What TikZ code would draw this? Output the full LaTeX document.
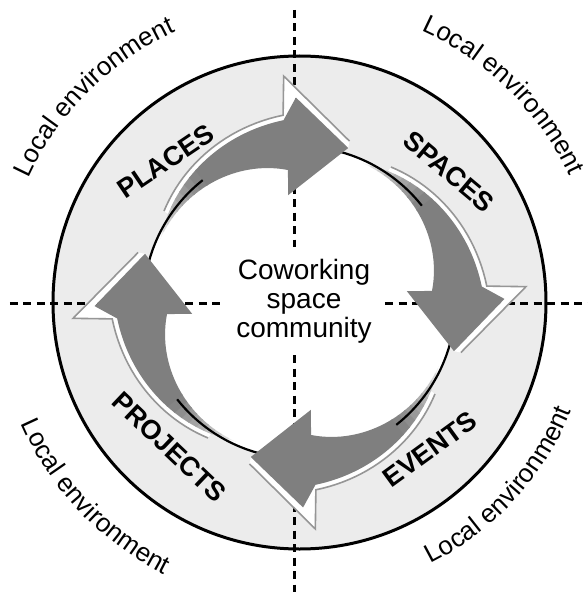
\documentclass[tikz,border=0pt]{standalone}
\usepackage{fontspec}
\setmainfont{Liberation Sans}
\usetikzlibrary{decorations.text}

\definecolor{ringgray}{RGB}{236,236,236}
\definecolor{arrowgray}{RGB}{127,127,127}
\definecolor{rimgray}{RGB}{150,150,150}

\tikzset{
  crossline/.style={line width=3pt,dash pattern=on 8pt off 5.5pt},
  envtext/.style={decorate,decoration={text along path,text align=center,
      text={|\fontsize{26}{30}\selectfont|Local environment}}},
  stagelabel/.style={inner sep=0pt,font=\fontsize{27}{30}\selectfont\bfseries},
}

\begin{document}
\begin{tikzpicture}[x=1pt,y=1pt]
\useasboundingbox (-299.5,-289.5) rectangle (288.5,302.5);

\fill[ringgray,even odd rule] (0,0) circle[radius=246.5] (0,0) circle[radius=156];
\draw[line width=3pt] (0,0) circle[radius=246.5];

\draw[crossline] (-4.5,292.5) -- (-4.5,55.5);
\draw[crossline] (-4.5,-52.5) -- (-4.5,-289.5);
\draw[crossline] (-289.5,-0.5) -- (-74.5,-0.5);
\draw[crossline] (85.5,-0.5) -- (288.5,-0.5);

% rims and faded tails
\foreach \rot in {0,-90,-180,-270}{
  \begin{scope}[rotate=\rot]
    \fill[white] plot[domain=0.85:0,samples=25] ({95+60*\x}:{188-30*\x*(0.75+0.25*\x)})
      -- (94:227) -- (72.8:169) -- (72.5:162) -- (91:205) -- (95:183)
      -- plot[domain=0:0.85,samples=25] ({95+60*\x}:{183-30*\x*(0.75+0.25*\x)}) -- cycle;
    \draw[rimgray,line width=1.6pt] plot[domain=0.85:0,samples=25] ({95+60*\x}:{188-30*\x*(0.75+0.25*\x)})
      -- (94:227) -- (72.8:169);
    \foreach \i in {8,...,0}{
      \pgfmathsetmacro\ua{0.55+0.05*\i}
      \pgfmathsetmacro\ub{\ua+0.058}
      \pgfmathsetmacro\tone{100*((0.975-\ua)/0.45)^0.7}
      \fill[arrowgray!\tone!white] plot[domain=\ua:\ub,samples=4] ({95+60*\x}:{183-30*\x*(0.75+0.25*\x)})
        -- plot[domain=\ub:\ua,samples=4] ({95+60*\x}:{153-20*(1-\x)*(1-\x)}) -- cycle;
    }
  \end{scope}
}
\draw[line width=2.2pt] (0,0) circle[radius=156];

\foreach \rot in {0,-90,-180,-270}{
  \fill[arrowgray,rotate=\rot] plot[domain=0.555:0,samples=20] ({95+60*\x}:{183-30*\x*(0.75+0.25*\x)})
    -- (91:205) -- (72.5:162) -- (96:108) -- (95:133)
    -- plot[domain=0:0.555,samples=20] ({95+60*\x}:{153-20*(1-\x)*(1-\x)}) -- cycle;
}

\path[envtext] (175:298) arc[start angle=175,end angle=95,radius=298];
\path[envtext] (85.5:298) arc[start angle=85.5,end angle=5.5,radius=298];
\path[envtext] (-181.5:303.5) arc[start angle=-181.5,end angle=-91.5,radius=303.5];
\path[envtext] (-87.5:292.5) arc[start angle=-87.5,end angle=2.5,radius=292.5];

\node[stagelabel,rotate=34] (places) at (-134,141.5) {PLACES};
\node[stagelabel,rotate=-40] (spaces) at (149.5,131) {SPACES};
\node[stagelabel,rotate=36] (events) at (130.5,-146.5) {EVENTS};
\node[stagelabel,rotate=-43.5] (projects) at (-130,-144.5) {PROJECTS};
\node[align=center,inner sep=0pt,font=\fontsize{28}{29}\selectfont] (hub) at (4.5,1) {Coworking\\space\\community};
\end{tikzpicture}
\end{document}
